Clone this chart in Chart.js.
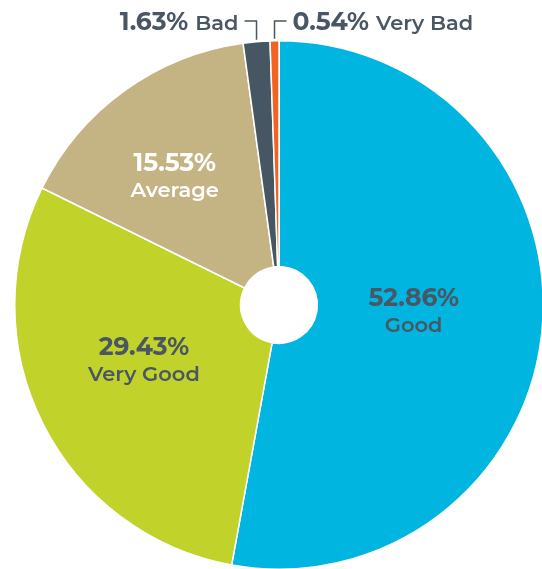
<!DOCTYPE html>
<html>
<head>
<meta charset="utf-8">
<script src="https://cdn.jsdelivr.net/npm/chart.js@4.4.1/dist/chart.umd.min.js"></script>
<style>
  html, body { margin: 0; padding: 0; background: #fff; overflow: hidden; }
  #wrap { position: relative; width: 560px; height: 600px; }
</style>
</head>
<body>
<div id="wrap"><canvas id="myChart" width="560" height="600"></canvas></div>
<script>
var categories = ["Good", "Very Good", "Average", "Bad", "Very Bad"];
var shares = [52.86, 29.43, 15.53, 1.63, 0.54];
var colors = ["#00B5E0", "#C1D32B", "#C5B483", "#465663", "#F26322"];
var labelColors = ["#4A5663", "#4A5663", "#FFFFFF", "#4A5663", "#4A5663"];

var FONT = "Montserrat, Inter, 'Open Sans', sans-serif";

// inside labels: [distance from centre as share of outer radius, angle nudge in degrees]
var insidePlace = { 0: [0.51, -3], 1: [0.55, 5], 2: [0.63, -3] };

var sliceLabels = {
  id: 'sliceLabels',
  afterDatasetsDraw: function(chart) {
    var ctx = chart.ctx;
    var meta = chart.getDatasetMeta(0);
    ctx.save();
    meta.data.forEach(function(arc, i) {
      var p = arc.getProps(['x', 'y', 'startAngle', 'endAngle', 'outerRadius'], true);
      var mid = (p.startAngle + p.endAngle) / 2;
      var pct = shares[i].toFixed(2) + '%';
      ctx.fillStyle = labelColors[i];
      if (insidePlace[i] !== undefined) {
        var r = p.outerRadius * insidePlace[i][0];
        var a = mid + insidePlace[i][1] * Math.PI / 180;
        var cx = p.x + Math.cos(a) * r;
        var cy = p.y + Math.sin(a) * r;
        ctx.textAlign = 'center';
        ctx.textBaseline = 'alphabetic';
        ctx.font = "bold 25px " + FONT;
        ctx.fillText(pct, cx, cy - 4);
        ctx.font = "600 21px " + FONT;
        ctx.fillText(categories[i], cx, cy + 22);
      } else {
        // small slices: label above the pie with a bent leader line
        var ax = p.x + Math.cos(mid) * p.outerRadius;
        var ay = p.y + Math.sin(mid) * p.outerRadius;
        var ly = 21;
        var left = ax < p.x - 10;
        ctx.strokeStyle = "#4A5663";
        ctx.lineWidth = 1.5;
        ctx.beginPath();
        ctx.moveTo(ax, ay - 2);
        ctx.lineTo(ax, ly);
        ctx.lineTo(left ? ax - 12 : ax + 12, ly);
        ctx.stroke();
        var tx = left ? ax - 18 : ax + 18;
        var ty = 30;
        ctx.textBaseline = 'alphabetic';
        ctx.font = "bold 25px " + FONT;
        var w1 = ctx.measureText(pct + ' ').width;
        ctx.font = "600 21px " + FONT;
        var w2 = ctx.measureText(categories[i]).width;
        ctx.textAlign = 'left';
        var start = left ? tx - w1 - w2 : tx;
        ctx.font = "bold 25px " + FONT;
        ctx.fillText(pct, start, ty);
        ctx.font = "600 21px " + FONT;
        ctx.fillText(categories[i], start + w1, ty);
      }
    });
    ctx.restore();
  }
};

new Chart(document.getElementById('myChart'), {
  type: 'doughnut',
  data: {
    labels: categories,
    datasets: [{
      data: shares,
      backgroundColor: colors,
      borderColor: '#ffffff',
      borderWidth: 1.5
    }]
  },
  options: {
    responsive: false,
    animation: false,
    cutout: '14.5%',
    layout: { padding: { left: 14, right: 16, top: 40, bottom: 30 } },
    plugins: {
      legend: { display: false },
      tooltip: { enabled: false }
    }
  },
  plugins: [sliceLabels]
});
</script>
</body>
</html>
